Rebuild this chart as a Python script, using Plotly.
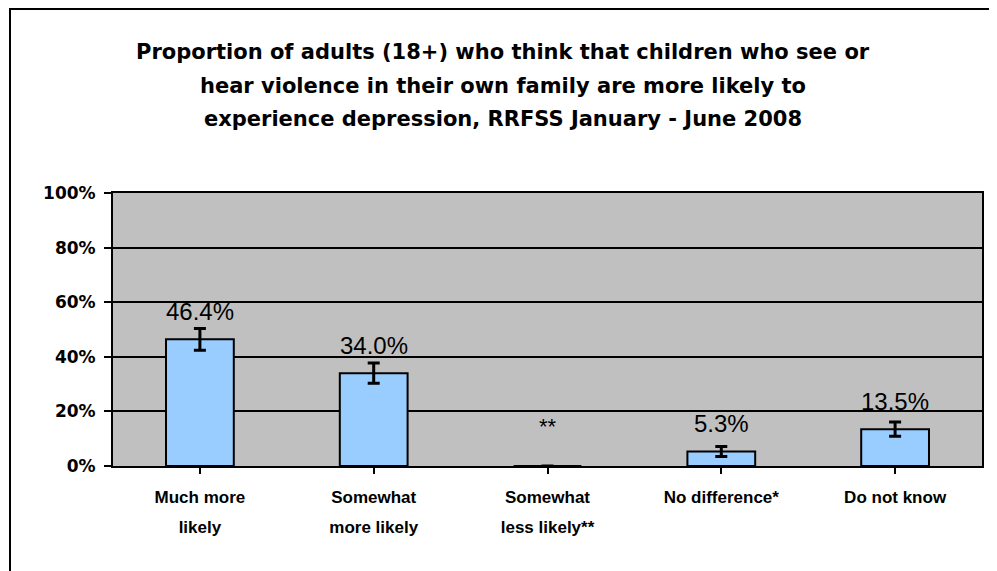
import plotly.graph_objects as go

categories = ["Much more<br>likely", "Somewhat<br>more likely", "Somewhat<br>less likely**",
              "No difference*", "Do not know"]
values = [46.4, 34.0, 0.0, 5.3, 13.5]
errors = [4.0, 3.7, 0.0, 1.8, 2.6]
value_labels = ["46.4%", "34.0%", "**", "5.3%", "13.5%"]
y_ticks = [0, 20, 40, 60, 80, 100]
title_lines = [
    "Proportion of adults (18+) who think that children who see or",
    "hear violence in their own family are more likely to",
    "experience depression, RRFSS January - June 2008",
]

OFF = 8  # default body margin of the html page
W, H = 997 - OFF, 571 - OFF
L, R, T, B = 113 - OFF, 15, 193 - OFF, 105
pw, ph = W - L - R, H - T - B

# smaller glyphs inside a larger base font -> wider line spacing (as in reference)
cat_ticktext = ["<br>".join(f"<span style='font-size:17px'>{part}</span>"
                            for part in c.split("<br>")) for c in categories]

fig = go.Figure()
fig.add_trace(go.Bar(
    x=list(range(len(categories))), y=values,
    width=0.39,
    marker=dict(color="#99CCFF", line=dict(color="black", width=2)),
    error_y=dict(type="data", array=errors, visible=True, color="black",
                 thickness=3, width=6),
    hoverinfo="skip",
))

annotations = []
for i, (v, lab) in enumerate(zip(values, value_labels)):
    small = lab == "**"
    annotations.append(dict(
        x=i, y=v, xref="x", yref="y", text=lab, showarrow=False,
        yanchor="middle", yshift=40 if small else 28,
        font=dict(family="Liberation Sans, Arial, sans-serif",
                  size=22 if small else 24, color="black"),
    ))

line_y = [52 - OFF, 86 - OFF, 119 - OFF]
for txt, yy in zip(title_lines, line_y):
    annotations.append(dict(
        x=(W / 2 - L) / pw, y=1 + (T - yy) / ph, xref="paper", yref="paper",
        text=txt, showarrow=False, xanchor="center", yanchor="middle",
        font=dict(family="DejaVu Sans, sans-serif", size=21, color="black",
                  weight="bold"),
    ))

fig.update_layout(
    width=W, height=H,
    margin=dict(l=L, r=R, t=T, b=B, autoexpand=False),
    paper_bgcolor="white", plot_bgcolor="#C0C0C0",
    showlegend=False,
    annotations=annotations,
    shapes=[dict(type="rect", xref="paper", yref="paper",
                 x0=(10 - OFF - L) / pw, x1=(W + 20 - L) / pw,
                 y0=1 + (T - (H + 20)) / ph, y1=1 + (T - 1) / ph,
                 line=dict(color="black", width=2), fillcolor="rgba(0,0,0,0)",
                 layer="below")],
    xaxis=dict(
        range=[-0.5, len(categories) - 0.5],
        tickmode="array", tickvals=list(range(len(categories))), ticktext=cat_ticktext,
        tickson="boundaries", ticks="outside", ticklen=6, tickwidth=2, tickcolor="black",
        showline=True, linecolor="black", linewidth=2, mirror=True,
        showgrid=False, zeroline=False,
        tickfont=dict(family="Liberation Sans, Arial, sans-serif",
                      size=23, color="black", weight="bold"),
        ticklabelstandoff=1,
    ),
    yaxis=dict(
        range=[0, 100], tickmode="array", tickvals=y_ticks,
        ticktext=[f"{t}%" for t in y_ticks],
        ticks="outside", ticklen=7, tickwidth=2, tickcolor="black",
        showline=True, linecolor="black", linewidth=2, mirror=True,
        showgrid=True, gridcolor="black", gridwidth=2, zeroline=False,
        tickfont=dict(family="DejaVu Sans, sans-serif", size=17,
                      color="black", weight="bold"),
        ticklabelstandoff=5,
    ),
)
fig.write_html("out.html")
